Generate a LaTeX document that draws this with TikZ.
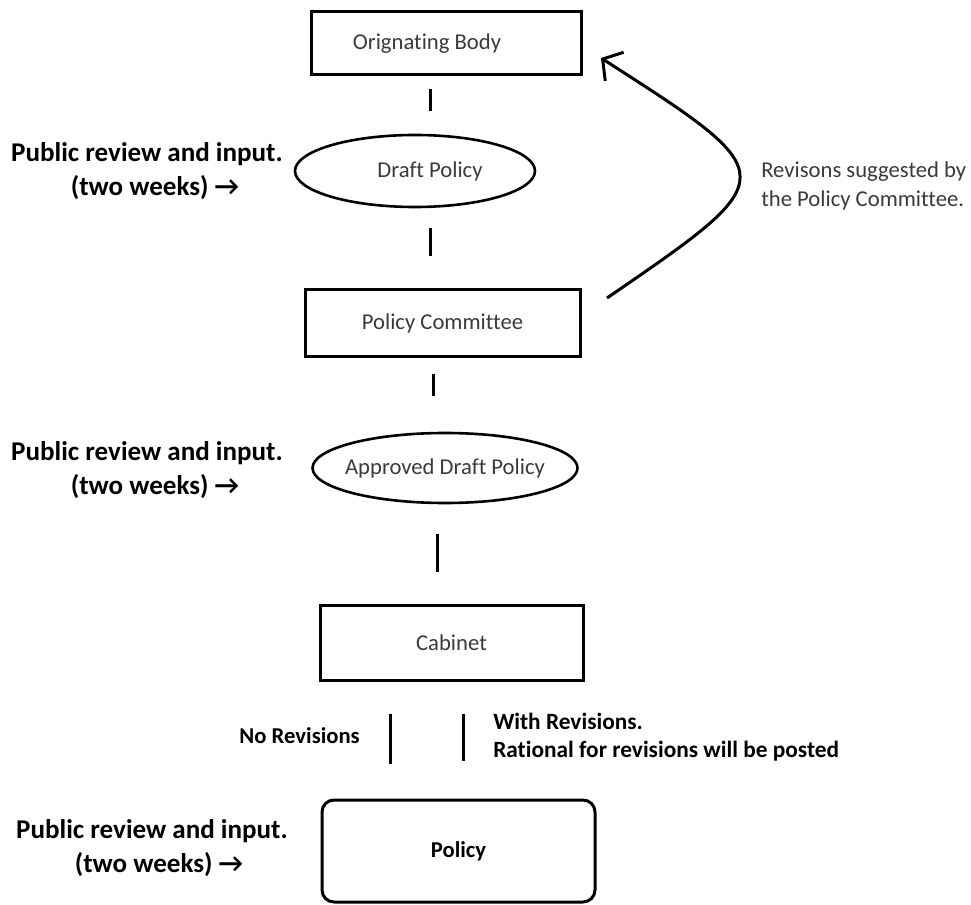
\documentclass[tikz,border=0pt]{standalone}
\usepackage{fontspec}
\setmainfont{Carlito}[Ligatures={NoCommon}]
\usetikzlibrary{shapes.geometric,arrows.meta,calc}
\newcommand\px[1]{#1*0.75pt}
\definecolor{txtgray}{HTML}{3A3A3A}
\tikzset{
  boxnode/.style={draw=black, line width=\px{3}, inner sep=0pt, text=txtgray, font=\fontsize{17}{20}\selectfont},
  ellnode/.style={ellipse, draw=black, line width=\px{2.6}, inner sep=0pt, text=txtgray, font=\fontsize{17}{20}\selectfont},
  barline/.style={line width=\px{3}, black},
  boldlbl/.style={font=\bfseries\fontsize{20.3}{26}\selectfont, align=center, inner sep=0pt},
  reglbl/.style={font=\fontsize{17}{21.5}\selectfont, text=txtgray, align=left, inner sep=0pt},
}
\begin{document}
\begin{tikzpicture}[x=0.75pt,y=-0.75pt]
\useasboundingbox (0,0) rectangle (971,905);
% nodes
\node[boxnode, minimum width=\px{270}, minimum height=\px{63}] (ob) at (446,43.5) {Orignating Body\hspace*{28.5pt}};
\node[ellnode, minimum width=\px{240}, minimum height=\px{72}] (dp) at (415,171) {\makebox[0pt]{\hspace*{22.5pt}Draft Policy}};
\node[boxnode, minimum width=\px{275}, minimum height=\px{67}] (pc) at (442.5,323.5) {Policy Committee};
\node[ellnode, minimum width=\px{265}, minimum height=\px{70}] (adp) at (445,468) {\makebox[0pt]{Approved Draft Policy}};
\node[boxnode, minimum width=\px{263}, minimum height=\px{75}] (cab) at (451.5,642.5) {Cabinet};
\node[boxnode, rounded corners=\px{12}, minimum width=\px{273}, minimum height=\px{102}, font=\bfseries\fontsize{17}{20}\selectfont, text=black] (pol) at (458.5,851) {Policy};
% side labels
\node[boldlbl] (l1) at (147,171) {Public review and input.\\\hspace*{12pt}(two weeks) →};
\node[boldlbl] (l2) at (147,470) {Public review and input.\\\hspace*{12pt}(two weeks) →};
\node[boldlbl] (l3) at (152,848) {Public review and input.\\\hspace*{10.5pt}(two weeks) →};
\node[reglbl, anchor=west] (rv) at (761,186) {Revisons suggested by\\the Policy Committee.};
\node[font=\bfseries\fontsize{17}{20}\selectfont, inner sep=0pt, anchor=east] (nr) at (360,736) {No Revisions};
\node[font=\bfseries\fontsize{17.5}{21}\selectfont, inner sep=0pt, anchor=west, align=left] (wr) at (493,737) {With Revisions.\\Rational for revisions will be posted};
% bar x positions
\coordinate (x1) at (430,0);
\coordinate (x2) at (430,0);
\coordinate (x3) at (433,0);
\coordinate (x4) at (437,0);
\coordinate (x5) at (390,0);
\coordinate (x6) at (463,0);
\draw[barline, shorten <=\px{13}, shorten >=\px{23}] (ob.south -| x1) -- (dp.north -| x1);
\draw[barline, shorten <=\px{20}, shorten >=\px{32}] (dp.south -| x2) -- (pc.north -| x2);
\draw[barline, shorten <=\px{16}, shorten >=\px{36}] (pc.south -| x3) -- (adp.north -| x3);
\draw[barline, shorten <=\px{30}, shorten >=\px{32}] (adp.south -| x4) -- (cab.north -| x4);
\draw[barline, shorten <=\px{32}, shorten >=\px{35}] (cab.south -| x5) -- (pol.north -| x5);
\draw[barline, shorten <=\px{32}, shorten >=\px{38}] (cab.south -| x6) -- (pol.north -| x6);
% revision arrow
\coordinate (as) at (607,298);
\coordinate (ae) at (601,58);
\draw[line width=\px{3}, -{Straight Barb[length=\px{14}, width=\px{34}, line width=\px{3}]}] (as) .. controls (785,176) .. (ae);
\end{tikzpicture}
\end{document}
